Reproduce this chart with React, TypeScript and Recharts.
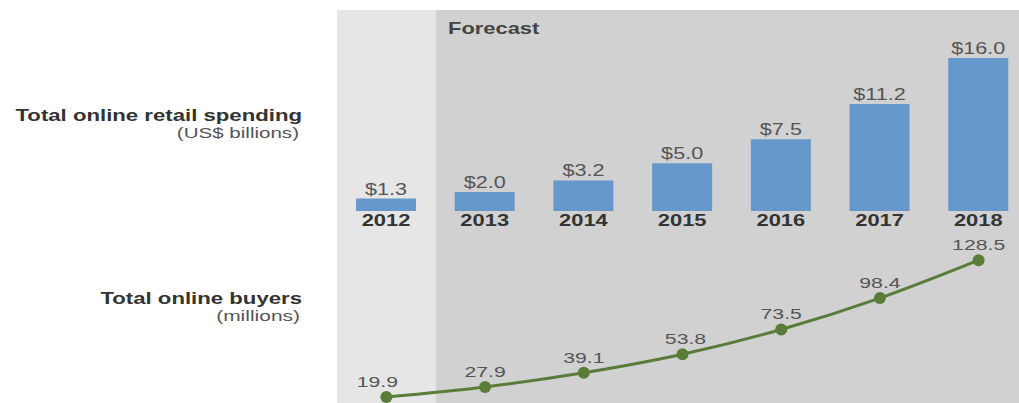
import React from "react";
import {
  ComposedChart,
  Bar,
  Line,
  XAxis,
  YAxis,
  ReferenceArea,
  LabelList,
} from "recharts";

const years = ["2012", "2013", "2014", "2015", "2016", "2017", "2018"];
const spending = [1.3, 2.0, 3.2, 5.0, 7.5, 11.2, 16.0];
const buyers = [19.9, 27.9, 39.1, 53.8, 73.5, 98.4, 128.5];

const data = years.map((year, i) => ({
  year,
  spending: spending[i],
  buyers: buyers[i],
}));

const FONT = '"Liberation Sans", Arial, sans-serif';
// the reference is stretched sideways, so text is widened to match
const SX = 1.37;

function SText({ x, y, anchor = "start", size = 15, weight = "normal", fill = "#555", children }: any) {
  return (
    <text
      transform={`translate(${x},${y}) scale(${SX},1)`}
      textAnchor={anchor}
      fontSize={size}
      fontWeight={weight}
      fill={fill}
      fontFamily={FONT}
    >
      {children}
    </text>
  );
}

const BarValue = (props: any) => {
  const { x, y, width, value } = props;
  return (
    <SText x={x + width / 2} y={y - 4} anchor="middle" size={15.8} fill="#555">
      {`$${Number(value).toFixed(1)}`}
    </SText>
  );
};

const YearLabel = (props: any) => {
  const { x, y, width, height, value } = props;
  return (
    <SText x={x + width / 2} y={y + height + 15} anchor="middle" size={16} weight="bold" fill="#333">
      {value}
    </SText>
  );
};

const BuyerLabel = (props: any) => {
  const { x, y, value, index } = props;
  const dx = index === 0 ? -9 : index === 3 ? 3 : 0;
  return (
    <SText x={x + dx} y={y - 10} anchor="middle" size={15.5} fill="#555">
      {Number(value).toFixed(1)}
    </SText>
  );
};

export default function App() {
  return (
    <div
      style={{
        position: "fixed",
        left: 0,
        top: 0,
        width: 1019,
        height: 403,
        overflow: "hidden",
        background: "#fff",
      }}
    >
      <div style={{ position: "absolute", left: 0, top: 0 }}>
        <ComposedChart
          width={1043}
          height={403}
          data={data}
          margin={{ top: 10, right: 15, bottom: 0, left: 337 }}
        >
          <XAxis dataKey="year" hide />
          <YAxis yAxisId="bar" type="number" domain={[-20.08, 21.03]} allowDataOverflow hide />
          <YAxis yAxisId="line" type="number" domain={[15.14, 327]} allowDataOverflow hide />
          <ReferenceArea yAxisId="bar" x1="2012" x2="2012" fill="#e6e6e6" fillOpacity={1} stroke="none" />
          <ReferenceArea yAxisId="bar" x1="2013" x2="2018" fill="#d1d1d1" fillOpacity={1} stroke="none" />
          <Bar yAxisId="bar" dataKey="spending" barSize={60} fill="#6798cb" isAnimationActive={false}>
            <LabelList dataKey="spending" content={BarValue} />
            <LabelList dataKey="year" content={YearLabel} />
          </Bar>
          <Line
            yAxisId="line"
            type="monotone"
            dataKey="buyers"
            stroke="#5a7c39"
            strokeWidth={3}
            dot={{ r: 6, fill: "#5a7c39", stroke: "none" }}
            activeDot={false}
            isAnimationActive={false}
          >
            <LabelList dataKey="buyers" content={BuyerLabel} />
          </Line>
        </ComposedChart>
      </div>
      <svg
        width={1019}
        height={403}
        style={{ position: "absolute", left: 0, top: 0, pointerEvents: "none" }}
      >
        <SText x={448} y={34} size={16} weight="bold" fill="#444">Forecast</SText>
        <SText x={302} y={121} anchor="end" size={16.2} weight="bold" fill="#333">
          Total online retail spending
        </SText>
        <SText x={299} y={138} anchor="end" size={15} fill="#555">(US$ billions)</SText>
        <SText x={302} y={304} anchor="end" size={16.2} weight="bold" fill="#333">
          Total online buyers
        </SText>
        <SText x={300} y={321} anchor="end" size={15.3} fill="#555">(millions)</SText>
      </svg>
    </div>
  );
}
